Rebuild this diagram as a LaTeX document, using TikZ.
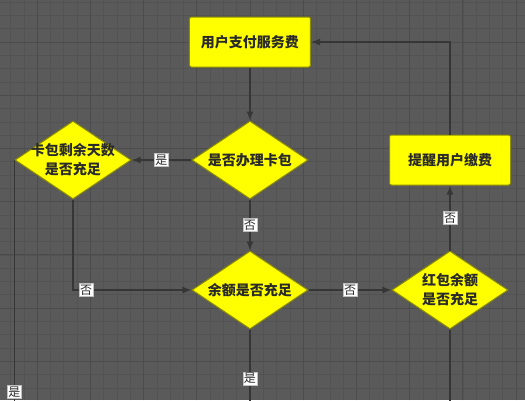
\documentclass[tikz,border=0pt]{standalone}
\usepackage{fontspec}
\newfontfamily\cjk{Noto Sans CJK SC}
\usetikzlibrary{positioning,shapes.geometric,arrows.meta}
\definecolor{boardgray}{HTML}{5A5A5A}
\definecolor{gridgray}{HTML}{535353}
\definecolor{majorgray}{HTML}{4C4C4C}
\definecolor{flowyellow}{HTML}{FFFF00}
\definecolor{edgeolive}{HTML}{8C8C00}
\definecolor{linegray}{HTML}{363636}
\definecolor{inkgray}{HTML}{2A2A2A}

\begin{document}
\begin{tikzpicture}[x=1pt, y=1pt,
  every node/.style={font=\cjk},
  procbox/.style={draw=edgeolive, fill=flowyellow, rounded corners=2pt, line width=1pt,
    minimum width=121pt, minimum height=50pt, text=inkgray,
    font=\cjk\bfseries\fontsize{14}{19}\selectfont},
  decision/.style={diamond, draw=edgeolive, fill=flowyellow, line width=1pt, shape aspect=1.49,
    minimum width=116pt, minimum height=78pt, inner sep=-6pt, align=center, text=inkgray,
    font=\cjk\bfseries\fontsize{14}{19}\selectfont},
  flow/.style={draw=linegray, line width=1.4pt, -{Latex[length=9pt,width=7pt]}},
  lead/.style={draw=linegray, line width=1.4pt},
  tag/.style={fill=white, draw=gray!50, line width=0.4pt, inner sep=1.2pt, text=inkgray,
    font=\cjk\fontsize{12}{13}\selectfont}]
  \useasboundingbox (-250,-358) rectangle (275,42);
  % board
  \fill[boardgray] (-250,-358) rectangle (275,42);
  \draw[gridgray, line width=0.6pt, step=13.3] (-250,-358) grid (275,42);
  \draw[majorgray, line width=0.8pt, step=53.2] (-250,-358) grid (275,42);
  % steps
  \node[procbox] (pay) at (0,0) {用户支付服务费};
  \node[decision, below=53pt of pay] (hascard) {是否办理卡包};
  \node[decision, left=60pt of hascard] (carddays) {卡包剩余天数\\是否充足};
  \node[decision, below=51pt of hascard] (balance) {余额是否充足};
  \node[decision, right=83pt of balance] (redpack) {红包余额\\是否充足};
  \node[procbox, above=65pt of redpack] (remind) {提醒用户缴费};
  % loose ends below the page
  \coordinate (cardout) at (carddays.west |- 0,-400);
  \coordinate (balout) at (balance.south |- 0,-400);
  \coordinate (redout) at (redpack.south |- 0,-400);
  % links
  \draw[flow] (pay) -- (hascard);
  \draw[flow] (hascard) -- node[tag] {是} (carddays);
  \draw[flow] (hascard) -- node[tag] {否} (balance);
  \draw[flow] (carddays.south) |- node[tag, pos=0.555] {否} (balance.west);
  \draw[flow] (balance) -- node[tag] {否} (redpack);
  \draw[flow] (redpack) -- node[tag] {否} (remind);
  \draw[flow] (remind.north) |- (pay.east);
  \draw[lead] (carddays.west) -- node[tag, pos=0.823] {是} (cardout);
  \draw[lead] (balance.south) -- node[tag, pos=0.435] {是} (balout);
  \draw[lead] (redpack.south) -- (redout);
\end{tikzpicture}
\end{document}
